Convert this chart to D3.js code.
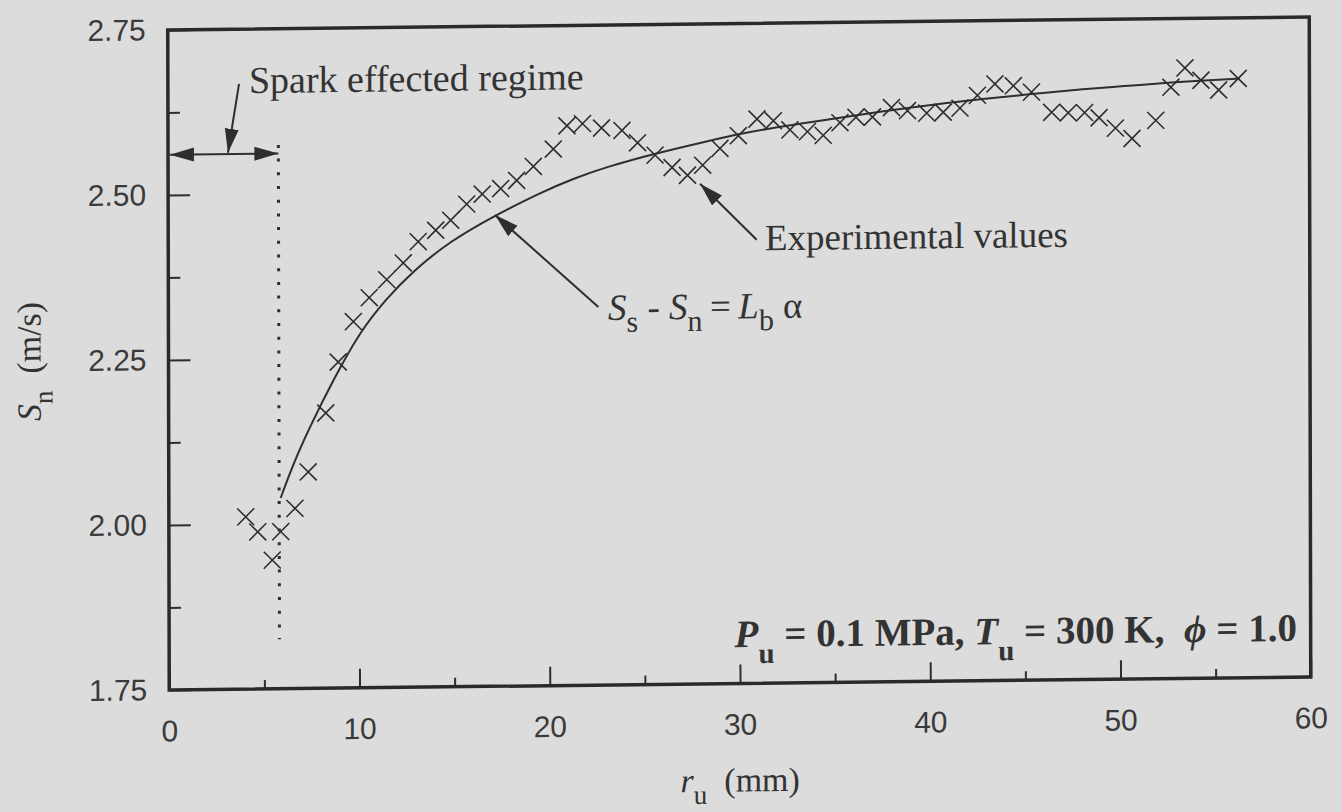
<!DOCTYPE html>
<html>
<head>
<meta charset="utf-8">
<script src="https://cdn.jsdelivr.net/npm/d3@7"></script>
<style>
    body { margin: 0; background: #dcdcdc; }
    svg { display: block; }
    .tick line { stroke: #2e2e2e; stroke-width: 2; }
    .tick text { font-family: "Liberation Sans", Arial, sans-serif; font-size: 30px; fill: #3a3a3a; }
    .note { font-family: "Liberation Serif", "Times New Roman", serif; font-size: 37px; fill: #333; }
</style>
</head>
<body>
<script>

// experimental values, r_u (mm) and S_n (m/s)
let exp_r = [4.04, 4.67, 5.43, 5.88, 6.63, 7.33, 8.26, 8.92, 9.72, 10.56, 11.48, 12.35, 13.14, 14.06, 14.85,
    15.69, 16.51, 17.48, 18.32, 19.20, 20.25, 20.97, 21.79, 22.79, 23.86, 24.68, 25.60, 26.49, 27.30, 28.10,
    29.01, 29.98, 30.96, 31.82, 32.69, 33.61, 34.44, 35.32, 36.16, 37.03, 38.03, 38.87, 39.88, 40.75, 41.63,
    42.55, 43.47, 44.44, 45.39, 46.45, 47.32, 48.18, 48.94, 49.80, 50.67, 51.92, 52.72, 53.46, 54.30, 55.23, 56.26];
let exp_s = [2.011, 1.988, 1.945, 1.988, 2.023, 2.078, 2.167, 2.244, 2.305, 2.341, 2.368, 2.393, 2.425, 2.442, 2.457,
    2.481, 2.496, 2.504, 2.516, 2.537, 2.563, 2.598, 2.601, 2.594, 2.590, 2.571, 2.552, 2.533, 2.521, 2.536,
    2.561, 2.580, 2.605, 2.602, 2.588, 2.585, 2.579, 2.598, 2.606, 2.606, 2.620, 2.615, 2.611, 2.612, 2.618,
    2.637, 2.654, 2.651, 2.641, 2.610, 2.609, 2.609, 2.601, 2.585, 2.569, 2.596, 2.646, 2.675, 2.656, 2.641, 2.658];

// fitted curve S_s - S_n = L_b alpha
let fit_r = [5.88, 6.55, 7.43, 8.66, 10.07, 11.48, 12.88, 14.81, 17.09, 19.55, 21.30, 23.06, 25.51, 28.31,
    30.07, 32.17, 33.92, 35.68, 37.43, 39.18, 40.93, 42.68, 45.31, 48.29, 50.04, 52.15, 53.90, 56.35];
let fit_s = [2.039, 2.091, 2.147, 2.217, 2.290, 2.340, 2.381, 2.425, 2.462, 2.497, 2.518, 2.535, 2.554, 2.572,
    2.583, 2.593, 2.600, 2.607, 2.614, 2.620, 2.626, 2.631, 2.638, 2.645, 2.648, 2.652, 2.655, 2.658];

let x_major = [0, 10, 20, 30, 40, 50, 60];
let x_minor = [5, 15, 25, 35, 45, 55];
let y_major = [1.75, 2.00, 2.25, 2.50, 2.75];
let y_minor = [1.875, 2.125, 2.375, 2.625];

let spark_r = 5.8;

let width = 1342,
    height = 812,
    w = 1141.5,
    h = 660;

let svg = d3.select("body")
    .append("svg")
    .attr("width", width)
    .attr("height", height);

svg.append("rect")
    .attr("width", width)
    .attr("height", height)
    .attr("fill", "#dcdcdc");

let defs = svg.append("defs");
defs.append("marker")
    .attr("id", "head")
    .attr("viewBox", "0 -8 26 16")
    .attr("refX", 24)
    .attr("refY", 0)
    .attr("markerWidth", 26)
    .attr("markerHeight", 16)
    .attr("markerUnits", "userSpaceOnUse")
    .attr("orient", "auto-start-reverse")
    .append("path")
    .attr("d", "M0,-7L24,0L0,7Z")
    .attr("fill", "#2e2e2e");

// the scanned frame is a little skewed, so the plot sits in a slanted group
let g = svg.append("g")
    .attr("transform", "matrix(1,-0.011388,0.002273,1,167.75,30)");

let x = d3.scaleLinear().domain([0, 60]).range([0, w]);
let y = d3.scaleLinear().domain([1.75, 2.75]).range([h, 0]);

/* ------- AXES -------*/

g.append("g")
    .attr("transform", "translate(0," + h + ")")
    .call(d3.axisBottom(x).tickValues(x_major).tickSize(-19).tickPadding(30).tickFormat(d3.format("d")))
    .call(a => a.select(".domain").remove());
g.append("g")
    .attr("transform", "translate(0," + h + ")")
    .call(d3.axisBottom(x).tickValues(x_minor).tickSize(-9).tickFormat(""))
    .call(a => a.select(".domain").remove());

g.append("g")
    .call(d3.axisLeft(y).tickValues(y_major).tickSize(-22).tickPadding(22).tickFormat(d3.format(".2f")))
    .call(a => a.select(".domain").remove());
g.append("g")
    .call(d3.axisLeft(y).tickValues(y_minor).tickSize(-12).tickFormat(""))
    .call(a => a.select(".domain").remove());

g.append("rect")
    .attr("width", w)
    .attr("height", h)
    .attr("fill", "none")
    .attr("stroke", "#2a2a2a")
    .attr("stroke-width", 3.5);

/* ------- AXIS TITLES -------*/

let xt = g.append("text")
    .attr("class", "note")
    .attr("x", x(30))
    .attr("y", h + 108)
    .attr("text-anchor", "middle")
    .style("font-size", "34px");
xt.append("tspan").attr("font-style", "italic").text("r");
xt.append("tspan").attr("dy", 12).style("font-size", "27px").text("u");
xt.append("tspan").attr("dy", -12).text("\u2002(mm)");

let yt = g.append("text")
    .attr("class", "note")
    .attr("transform", "translate(-128," + y(2.25) + ") rotate(-90)")
    .attr("text-anchor", "middle")
    .style("font-size", "34px");
yt.append("tspan").attr("font-style", "italic").text("S");
yt.append("tspan").attr("dy", 12).style("font-size", "27px").text("n");
yt.append("tspan").attr("dy", -12).text("\u2002(m/s)");

/* ------- CURVE AND POINTS -------*/

let line = d3.line()
    .x(d => x(d[0]))
    .y(d => y(d[1]))
    .curve(d3.curveBasis);

g.append("path")
    .datum(d3.zip(fit_r, fit_s))
    .attr("d", line)
    .attr("fill", "none")
    .attr("stroke", "#2e2e2e")
    .attr("stroke-width", 2);

g.append("g")
    .selectAll("path")
    .data(d3.zip(exp_r, exp_s))
    .enter()
    .append("path")
    .attr("transform", d => "translate(" + x(d[0]) + "," + y(d[1]) + ")")
    .attr("d", "M-8.5,-8.5L8.5,8.5M-8.5,8.5L8.5,-8.5")
    .attr("stroke", "#2e2e2e")
    .attr("stroke-width", 1.6)
    .attr("fill", "none");

/* ------- ANNOTATIONS -------*/

g.append("line")
    .attr("x1", x(spark_r)).attr("x2", x(spark_r))
    .attr("y1", y(2.574)).attr("y2", y(1.825))
    .attr("stroke", "#2e2e2e")
    .attr("stroke-width", 3)
    .attr("stroke-dasharray", "3 10.7");

function arrow(x1, y1, x2, y2, both){
    let l = g.append("line")
        .attr("x1", x(x1)).attr("y1", y(y1))
        .attr("x2", x(x2)).attr("y2", y(y2))
        .attr("stroke", "#2e2e2e")
        .attr("stroke-width", 2)
        .attr("marker-end", "url(#head)");
    if(both){
        l.attr("marker-start", "url(#head)");
    }
}

arrow(0.1, 2.561, spark_r, 2.561, true);
arrow(3.74, 2.667, 3.15, 2.563);
arrow(30.93, 2.422, 27.96, 2.508);
arrow(22.6, 2.323, 17.18, 2.464);

g.append("text")
    .attr("class", "note")
    .attr("x", x(4.26))
    .attr("y", y(2.653))
    .style("font-size", "38px")
    .text("Spark effected regime");

g.append("text")
    .attr("class", "note")
    .attr("x", x(31.36))
    .attr("y", y(2.406))
    .text("Experimental values");

let eq = g.append("text")
    .attr("class", "note")
    .attr("x", x(23.11))
    .attr("y", y(2.303));
eq.append("tspan").attr("font-style", "italic").text("S");
eq.append("tspan").attr("dy", 12).style("font-size", "30px").text("s");
eq.append("tspan").attr("dy", -12).text(" - ");
eq.append("tspan").attr("font-style", "italic").text("S");
eq.append("tspan").attr("dy", 12).style("font-size", "30px").text("n");
eq.append("tspan").attr("dy", -12).text("\u2009=\u2009");
eq.append("tspan").attr("font-style", "italic").text("L");
eq.append("tspan").attr("dy", 12).style("font-size", "30px").text("b");
eq.append("tspan").attr("dy", -12).text(" \u03b1");

let cond = g.append("text")
    .attr("class", "note")
    .attr("x", x(59.28))
    .attr("y", y(1.805))
    .attr("text-anchor", "end")
    .attr("font-weight", "bold")
    .style("font-size", "39px");
cond.append("tspan").attr("font-style", "italic").text("P");
cond.append("tspan").attr("dy", 16).style("font-size", "29px").text("u");
cond.append("tspan").attr("dy", -16).text("\u00a0=\u00a00.1\u00a0MPa,\u00a0");
cond.append("tspan").attr("font-style", "italic").text("T");
cond.append("tspan").attr("dy", 16).style("font-size", "29px").text("u");
cond.append("tspan").attr("dy", -16).text("\u00a0=\u00a0300\u00a0K,\u00a0\u00a0");
cond.append("tspan").attr("font-style", "italic").text("\u03d5");
cond.append("tspan").text("\u00a0=\u00a01.0");

</script>
</body>
</html>
